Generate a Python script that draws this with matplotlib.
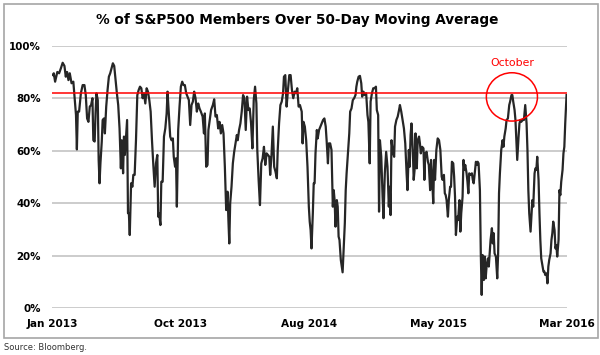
import matplotlib
matplotlib.use('Agg')
import matplotlib.pyplot as plt
import matplotlib.dates as mdates
from matplotlib.patches import Ellipse, Rectangle
import numpy as np
import pandas as pd

# days since 2013-01-02 and % of S&P500 members above their 50-day MA
start = pd.Timestamp('2013-01-02')
days = [
    2, 4, 7, 12, 16, 20, 24, 28, 31, 34, 37, 40, 44, 48, 52, 54, 56, 58, 61, 65,
    69, 73, 76, 79, 82, 85, 88, 91, 93, 96, 98, 100, 103, 105, 107, 109, 112, 114, 117, 119,
    122, 125, 128, 131, 134, 137, 140, 143, 146, 149, 152, 155, 157, 160, 162, 164, 166, 169, 171, 173,
    175, 178, 181, 183, 186, 189, 192, 195, 198, 201, 204, 207, 210, 213, 216, 219, 222, 225, 228, 231,
    234, 237, 239, 241, 244, 246, 249, 252, 255, 258, 260, 263, 266, 269, 272, 274, 277, 279, 281, 284,
    287, 290, 293, 296, 299, 302, 305, 308, 311, 314, 317, 320, 323, 326, 329, 332, 335, 339, 342, 344,
    347, 350, 352, 355, 358, 362, 365, 368, 371, 374, 377, 380, 383, 386, 389, 392, 395, 397, 399, 401,
    404, 407, 410, 413, 416, 418, 421, 424, 427, 430, 433, 436, 439, 442, 445, 448, 451, 454, 457, 460,
    462, 465, 468, 471, 474, 477, 480, 483, 486, 489, 491, 494, 497, 500, 503, 506, 508, 511, 514, 517,
    520, 522, 525, 528, 531, 534, 537, 540, 543, 546, 549, 552, 555, 558, 562, 564, 566, 569, 572, 575,
    578, 580, 582, 584, 587, 589, 591, 593, 596, 598, 601, 604, 607, 610, 613, 616, 618, 621, 623, 626,
    629, 632, 634, 636, 638, 641, 643, 645, 647, 650, 652, 654, 656, 659, 661, 663, 666, 669, 671, 674,
    677, 680, 683, 685, 687, 690, 693, 696, 698, 701, 704, 707, 710, 712, 715, 717, 720, 723, 726, 729,
    731, 734, 736, 738, 741, 744, 746, 749, 752, 755, 758, 760, 762, 764, 767, 770, 772, 775, 778, 781,
    783, 786, 789, 792, 795, 798, 800, 803, 805, 807, 809, 812, 814, 816, 818, 821, 823, 826, 828, 830,
    833, 836, 838, 840, 843, 846, 848, 851, 853, 855, 858, 860, 862, 865, 868, 871, 874, 877, 879, 882,
    884, 886, 888, 891, 893, 896, 898, 900, 903, 905, 907, 909, 912, 914, 917, 919, 921, 924, 926, 928,
    930, 933, 935, 937, 939, 942, 945, 947, 949, 951, 954, 956, 958, 960, 963, 965, 967, 969, 972, 974,
    976, 978, 981, 983, 985, 987, 990, 992, 994, 996, 999, 1002, 1004, 1006, 1008, 1011, 1014, 1016, 1018, 1021,
    1023, 1026, 1029, 1031, 1034, 1036, 1038, 1041, 1043, 1045, 1047, 1050, 1052, 1054, 1056, 1059, 1062, 1065, 1068, 1070,
    1072, 1074, 1077, 1079, 1081, 1083, 1086, 1088, 1090, 1092, 1095, 1097, 1099, 1101, 1104, 1106, 1108, 1110, 1113, 1115,
    1117, 1119, 1122, 1124, 1126, 1128, 1131, 1133, 1135, 1137, 1140, 1142, 1144, 1146, 1149, 1151, 1153, 1155, 1158,
]
pct = [
    88.8, 89.5, 86.3, 90.0, 89.5, 91.4, 93.5, 92.3, 88.2, 90.0, 86.9, 89.5, 85.7, 86.3, 78.0, 73.6, 60.5, 74.9, 74.9, 81.9,
    85.0, 85.0, 81.2, 72.3, 71.0, 76.8, 77.4, 80.0, 64.0, 63.5, 74.2, 81.9, 79.3, 56.5, 47.6, 55.2, 63.5, 71.7, 72.3, 66.6,
    76.8, 83.1, 88.2, 89.5, 91.4, 93.3, 92.3, 86.9, 81.9, 77.4, 68.5, 53.3, 64.0, 51.4, 65.4, 58.4, 64.0, 71.7, 36.2, 36.2,
    27.9, 47.6, 46.3, 50.8, 50.8, 64.0, 81.2, 83.1, 84.4, 83.8, 80.0, 81.9, 78.0, 83.8, 82.5, 79.3, 74.9, 64.0, 54.6, 46.3,
    55.2, 58.4, 34.9, 36.2, 31.7, 48.2, 48.2, 65.4, 68.5, 74.2, 82.5, 74.2, 65.4, 64.0, 64.7, 57.7, 53.9, 57.1, 38.7, 67.9,
    76.8, 84.4, 86.3, 85.0, 85.0, 81.9, 80.6, 79.3, 69.8, 77.4, 78.7, 82.5, 80.0, 74.9, 78.0, 76.1, 74.9, 73.0, 66.6, 74.2,
    53.9, 54.6, 67.9, 71.7, 75.5, 77.4, 79.6, 73.0, 73.6, 68.5, 71.0, 66.6, 69.8, 66.6, 53.9, 37.4, 44.4, 33.6, 24.7, 40.0,
    46.3, 55.2, 59.6, 62.8, 66.0, 64.0, 67.9, 70.4, 74.9, 81.2, 80.0, 67.9, 80.6, 75.5, 76.1, 70.4, 60.9, 79.3, 84.4, 78.0,
    60.3, 48.9, 39.3, 55.2, 57.1, 61.5, 54.6, 59.0, 58.4, 57.7, 50.8, 58.4, 69.2, 53.9, 52.0, 49.5, 60.3, 70.4, 77.4, 78.7,
    81.9, 88.2, 88.8, 76.8, 83.1, 88.8, 88.8, 83.1, 80.0, 82.5, 81.9, 83.8, 76.8, 77.4, 74.9, 62.8, 71.0, 69.2, 64.0, 53.9,
    38.7, 33.0, 29.8, 22.8, 36.2, 47.6, 47.6, 59.0, 67.9, 64.7, 67.9, 69.2, 70.4, 71.7, 72.3, 69.2, 64.0, 55.2, 62.8, 62.8,
    60.3, 38.7, 45.0, 41.2, 31.1, 41.2, 38.7, 27.3, 26.0, 18.4, 15.9, 13.7, 20.9, 32.4, 45.0, 51.4, 59.0, 66.6, 74.9, 76.1,
    79.3, 80.0, 81.2, 84.4, 86.3, 88.2, 88.5, 85.7, 80.6, 82.5, 81.2, 81.9, 73.6, 71.0, 55.2, 78.7, 81.9, 83.8, 83.8, 84.4,
    75.5, 73.6, 36.8, 64.0, 57.7, 42.5, 34.3, 51.4, 59.6, 53.9, 38.7, 46.3, 35.5, 64.0, 59.6, 57.7, 69.2, 71.7, 73.0, 75.5,
    77.4, 74.9, 71.7, 68.5, 62.8, 51.4, 45.0, 60.3, 53.9, 66.0, 70.4, 60.3, 48.9, 52.7, 66.6, 53.3, 64.0, 65.4, 62.8, 59.0,
    61.5, 60.9, 48.9, 59.0, 59.6, 55.8, 54.6, 45.0, 56.5, 51.4, 40.0, 56.5, 48.9, 60.3, 64.7, 64.0, 60.3, 50.1, 48.9, 50.8,
    43.8, 43.1, 41.2, 34.9, 41.2, 46.3, 46.3, 55.8, 55.2, 50.1, 42.5, 27.9, 34.9, 33.6, 41.2, 29.2, 36.2, 42.5, 56.5, 52.7,
    54.6, 51.4, 48.2, 43.8, 51.4, 50.8, 51.4, 48.9, 47.6, 50.8, 55.8, 54.6, 55.8, 55.2, 45.0, 20.9, 5.1, 20.3, 10.8, 19.7,
    11.4, 15.9, 19.0, 15.9, 20.9, 26.0, 30.5, 24.7, 28.6, 20.9, 19.7, 11.4, 20.9, 43.8, 51.4, 60.3, 64.0, 61.5, 65.4, 68.5,
    71.7, 72.3, 77.4, 78.7, 81.2, 81.2, 78.7, 75.5, 71.7, 64.0, 56.5, 65.4, 70.4, 71.7, 71.0, 71.7, 71.7, 77.4, 70.4, 60.3,
    45.0, 36.2, 29.2, 34.9, 41.2, 38.7, 51.4, 53.3, 52.7, 57.7, 48.9, 36.2, 26.0, 19.0, 15.9, 14.0, 14.0, 12.7, 13.3, 9.5,
    15.9, 18.4, 20.9, 26.0, 28.6, 33.0, 29.8, 22.8, 24.1, 19.7, 26.0, 45.0, 43.1, 48.2, 52.7, 59.0, 61.5, 70.4, 81.2,
]
dates = start + pd.to_timedelta(days, unit='D')

threshold = 81.8
tick_labels = ['Jan 2013', 'Oct 2013', 'Aug 2014', 'May 2015', 'Mar 2016']
x_end = start + pd.Timedelta(days=1159)

fig = plt.figure(figsize=(6, 3.55), dpi=100)
ax = fig.add_axes([52 / 600, 1 - 308.3 / 355, 515 / 600, 262.6 / 355])

# outer frame
fig.patches.append(Rectangle((4 / 600, 17.5 / 355), 593.5 / 600, 333.5 / 355, transform=fig.transFigure,
                             fill=False, edgecolor='#a6a6a6', linewidth=1.2))

ax.plot(dates, pct, color='#262626', linewidth=1.6, zorder=3)
ax.axhline(threshold, color='#ff0000', linewidth=1.1, zorder=4)

ax.set_ylim(0, 100)
ax.set_xlim(start, x_end)
ax.set_yticks(range(0, 101, 20))
ax.set_yticklabels([f'{v}%' for v in range(0, 101, 20)])
ticks = pd.date_range(start, x_end, periods=len(tick_labels))
ax.set_xticks(ticks)
ax.set_xticklabels(tick_labels)

ax.grid(axis='y', color='#bfbfbf', linewidth=1.1)
ax.set_axisbelow(True)
for s in ax.spines.values():
    s.set_visible(False)
ax.tick_params(axis='x', length=0, labelsize=7.6, colors='black', pad=8)
ax.tick_params(axis='y', length=0, labelsize=7.4, colors='black', pad=8)
for lab in ax.get_xticklabels() + ax.get_yticklabels():
    lab.set_fontweight('bold')

# October callout
oct_center = start + pd.Timedelta(days=1035)
ax.add_patch(Ellipse((mdates.date2num(oct_center), 80.5), width=115, height=18.4,
                     fill=False, edgecolor='#ff0000', linewidth=1.1, zorder=5, clip_on=False))
ax.text(oct_center, 93.6, 'October', color='#ff0000', fontsize=7.8, ha='center', va='center')

fig.text(297 / 600, 1 - 20 / 355, '% of S&P500 Members Over 50-Day Moving Average', ha='center', va='center',
         fontsize=9.8, fontweight='bold')
fig.text(4 / 600, 1 - 347 / 355, 'Source: Bloomberg.', ha='left', va='center', fontsize=6, color='#333333')

fig.savefig('out.png', dpi=100)
